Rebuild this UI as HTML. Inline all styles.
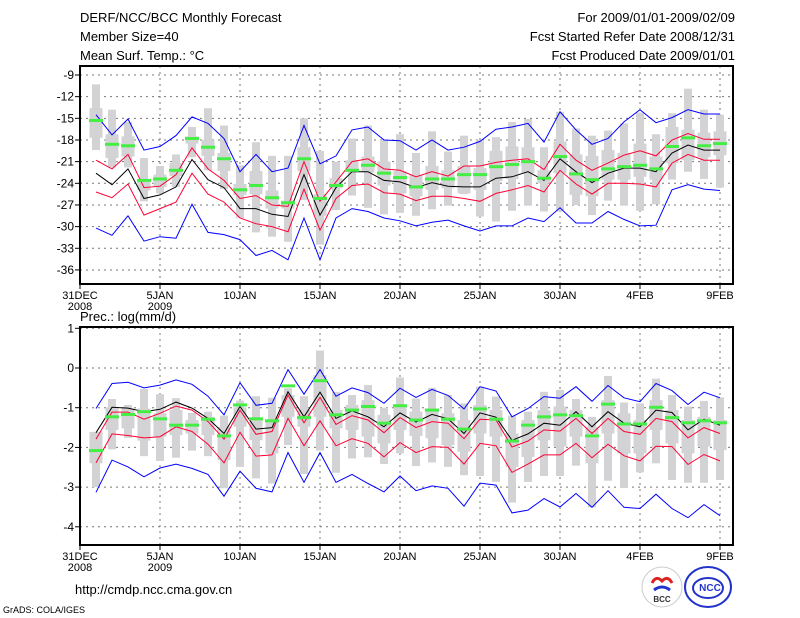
<!DOCTYPE html>
<html><head><meta charset="utf-8"><style>
body{margin:0;background:#fff;}
svg{display:block;font-family:"Liberation Sans",sans-serif;}
</style></head><body>
<svg id="chart" width="800" height="618" viewBox="0 0 800 618" xmlns="http://www.w3.org/2000/svg">
<rect width="800" height="618" fill="#fff"/>
<g font-size="13" fill="#000">
<text x="80" y="22">DERF/NCC/BCC Monthly Forecast</text>
<text x="80" y="41">Member Size=40</text>
<text x="80" y="60">Mean Surf. Temp.: °C</text>
<text x="735" y="22" text-anchor="end">For 2009/01/01-2009/02/09</text>
<text x="735" y="41" text-anchor="end">Fcst Started Refer Date 2008/12/31</text>
<text x="735" y="60" text-anchor="end">Fcst Produced Date 2009/01/01</text>
<text x="80" y="321">Prec.: log(mm/d)</text>
<text x="75" y="594">http://cmdp.ncc.cma.gov.cn</text>
<text x="3" y="613" font-size="9">GrADS: COLA/IGES</text>
</g>
<g>
<circle cx="662" cy="587" r="20" fill="#fff" stroke="#ccc"/>
<path d="M652 583 q4 -8 10 -2 q6 -6 10 2" stroke="#d22" stroke-width="3" fill="none"/>
<path d="M654 590 q8 -6 16 0" stroke="#23c" stroke-width="3" fill="none"/>
<text x="662" y="602" font-size="8" text-anchor="middle" font-weight="bold" fill="#333">BCC</text>
</g>
<g>
<ellipse cx="708" cy="587" rx="23" ry="20" fill="#fff" stroke="#23c" stroke-width="2"/>
<ellipse cx="708" cy="588" rx="15" ry="10" fill="none" stroke="#23c" stroke-width="2"/>
<text x="710" y="591" font-size="10" text-anchor="middle" font-weight="bold" fill="#23c">NCC</text>
</g>
<g id="top"></g>
<g id="bot"></g>
</svg>
<script>
// Temperature panel data (days 1..40)
const tBlueHi=[-14.5,-17.3,-15.1,-19.4,-18.9,-17.4,-14.8,-15.7,-17.8,-22.4,-20,-22.4,-21.9,-16,-21.3,-20.2,-16.6,-16.2,-18,-18.1,-19.4,-18,-19.4,-19,-18.2,-16.5,-16.2,-15.7,-18.3,-14.1,-16.6,-18.6,-17.8,-15.5,-13.8,-15.6,-14.9,-13.8,-14.4,-14.4];
const tRedHi=[-20.8,-22,-20,-24.6,-24.4,-22.8,-19.1,-22,-23.6,-26.1,-25.7,-27,-27.2,-21,-26.5,-23.8,-21,-20.6,-22,-22.2,-23.1,-22.4,-23,-21.6,-21.6,-21.1,-20.8,-20.6,-22.1,-18.6,-20.8,-22.2,-21.2,-20.1,-19.5,-20.2,-18,-17.1,-17.9,-17.9];
const tMean=[-22.6,-24.2,-22,-26.1,-25.6,-24.5,-20.7,-23.5,-24.6,-27.5,-27.5,-28.3,-28.6,-22.8,-28.4,-24.6,-22.4,-22.4,-23.6,-23.8,-24.6,-23.9,-24.4,-24.5,-24.5,-23.3,-23.1,-22.4,-23.6,-20.6,-22.4,-23.9,-22.6,-21.9,-21.9,-22.4,-19.8,-18.7,-19.4,-19.4];
const tRedLo=[-25.2,-26,-24.1,-28.4,-27.5,-26.6,-22.6,-25.5,-26.6,-28.8,-29.6,-30,-30.7,-24.8,-30.5,-26.1,-24.3,-24.1,-25.3,-25.5,-26.4,-25.8,-25.8,-26.1,-26.5,-25.4,-24.9,-24.3,-25.2,-22.2,-24.1,-25.5,-24,-24,-24.1,-24.5,-21.2,-20,-20.8,-20.8];
const tBlueLo=[-30.2,-31.2,-28.5,-32,-31.4,-31.6,-26.9,-30.8,-31.1,-31.8,-34,-33.3,-34.6,-28.8,-34.6,-28.8,-27.5,-27.9,-28.8,-29.2,-29.9,-29.4,-29.1,-29.9,-30.6,-29.9,-29.9,-28.8,-29.3,-27.4,-29.5,-29.5,-27.9,-29,-29.9,-29.8,-24.9,-24.2,-24.8,-25];
const tObs=[-15.3,-18.6,-18.8,-23.6,-23.4,-22.2,-17.8,-19,-20.6,-24.9,-24.3,-26,-26.7,-20.6,-26.1,-24.3,-22.2,-21.5,-22.6,-23.2,-24.5,-23.4,-23.4,-22.8,-22.8,-21.7,-21.4,-21,-23.3,-20.3,-22.7,-23.5,-22,-21.7,-21.5,-22,-18.9,-17.7,-18.8,-18.5];
const tWhHi=[-10.3,-13.8,-15.5,-20.5,-21.6,-20,-16.2,-13.6,-16,-21.5,-18.3,-20.2,-20.2,-15,-19.5,-21,-17.8,-16,-18,-17.2,-19.8,-16.8,-19.6,-17.4,-18,-17.6,-15.5,-15.1,-19,-14.1,-16.4,-17.4,-16.7,-15.7,-14.2,-17.2,-14.3,-10.9,-13.8,-14.5];
const tWhLo=[-19.4,-21.8,-21.8,-26.5,-25.4,-24.5,-20.4,-22.2,-24.8,-28.8,-30.8,-31.4,-32.1,-26.3,-32.5,-27.7,-25.7,-27.4,-28.3,-28.1,-28.5,-27.6,-27.1,-25.5,-28.6,-29.3,-27.8,-27.1,-27.9,-27.9,-27,-28.4,-26.4,-27.1,-27.8,-26.9,-23.5,-22.4,-23.4,-24.6];
const tBxHi=[-13.6,-17.2,-17.5,-23.5,-22.8,-21.2,-17.5,-18,-19.8,-24.1,-22.3,-25,-26.4,-19,-25.5,-23.3,-20.8,-20.3,-21,-22.3,-22.8,-21.6,-22.2,-21.6,-21.9,-19.5,-18.9,-19,-22.2,-18.2,-20,-20.2,-19.4,-19.8,-18.5,-20.3,-16.2,-16.6,-17,-16.8];
const tBxLo=[-17.7,-20.5,-20.3,-25,-24.5,-23,-18.5,-20.2,-22.3,-25.6,-25.5,-27.5,-27.5,-22.3,-28.5,-24.7,-22.3,-22.5,-24.3,-25.4,-25.8,-24.9,-24.7,-25.4,-24.9,-23.7,-23.4,-22.6,-24,-22.6,-25.6,-25.8,-23.5,-23.5,-23.1,-23.5,-21.2,-20.8,-20.4,-20.1];
const tTicks=[-9,-12,-15,-18,-21,-24,-27,-30,-33,-36];
// Precipitation panel data
const pBlueHi=[-1.02,-0.39,-0.36,-0.5,-0.43,-0.3,-0.41,-0.71,-1.18,-0.37,-0.94,-0.89,-0.04,-0.66,-0.04,-0.71,-0.5,-0.62,-0.89,-0.51,-0.74,-0.54,-0.69,-1.03,-0.47,-0.58,-1.23,-1.02,-0.72,-0.76,-0.47,-0.84,-0.44,-0.75,-0.85,-0.39,-0.57,-0.92,-0.61,-0.75];
const pMean=[-1.63,-0.99,-1.01,-1.1,-1.04,-0.86,-1.01,-1.27,-1.65,-0.97,-1.54,-1.5,-0.6,-1.23,-0.61,-1.27,-1.08,-1.23,-1.48,-1.13,-1.36,-1.17,-1.28,-1.65,-1.13,-1.24,-1.82,-1.66,-1.39,-1.44,-1.1,-1.48,-1.1,-1.39,-1.48,-1.06,-1.12,-1.56,-1.29,-1.44];
const pRedHi=[-1.79,-1.11,-1.11,-1.29,-1.14,-0.96,-1.06,-1.35,-1.79,-1.06,-1.67,-1.6,-0.68,-1.38,-0.74,-1.42,-1.2,-1.31,-1.63,-1.25,-1.5,-1.35,-1.39,-1.78,-1.29,-1.31,-1.99,-1.84,-1.56,-1.59,-1.27,-1.65,-1.27,-1.6,-1.67,-1.27,-1.35,-1.76,-1.5,-1.65];
const pRedLo=[-2.39,-1.66,-1.7,-1.76,-1.73,-1.48,-1.6,-1.92,-2.39,-1.62,-2.22,-2.19,-1.27,-1.96,-1.33,-1.96,-1.78,-1.9,-2.24,-1.88,-2.13,-1.98,-2,-2.42,-1.9,-1.96,-2.63,-2.42,-2.19,-2.19,-1.9,-2.26,-1.92,-2.21,-2.34,-1.97,-1.98,-2.43,-2.18,-2.34];
const pBlueLo=[-3.13,-2.32,-2.49,-2.74,-2.52,-2.42,-2.53,-2.68,-3.23,-2.6,-3.03,-3.12,-2.13,-2.88,-2.13,-2.88,-2.68,-2.91,-3.12,-2.72,-3.09,-2.97,-3.03,-3.48,-2.9,-2.95,-3.65,-3.58,-3.29,-3.5,-3.16,-3.51,-3.09,-3.51,-3.54,-3.18,-3.54,-3.77,-3.44,-3.72];
const pObs=[-2.08,-1.23,-1.17,-1.1,-1.28,-1.44,-1.44,-1.29,-1.71,-0.93,-1.28,-1.33,-0.45,-1.25,-0.32,-1.18,-1.06,-0.97,-1.39,-0.95,-1.31,-1.06,-1.29,-1.54,-1.03,-1.29,-1.84,-1.44,-1.23,-1.18,-1.2,-1.71,-0.91,-1.41,-1.41,-0.99,-1.25,-1.38,-1.33,-1.38];
const pWhHi=[-1.61,-0.78,-0.93,-0.53,-0.66,-0.76,-1.13,-1.1,-1.2,-0.82,-0.71,-0.75,-0.51,-0.71,0.44,-0.6,-0.68,-0.43,-1,-0.24,-0.77,-0.5,-0.68,-0.89,-0.47,-0.72,-1.2,-1.1,-0.6,-0.55,-0.78,-1.23,-0.2,-0.87,-0.89,-0.27,-0.68,-0.97,-0.83,-0.74];
const pWhLo=[-3,-2.05,-1.76,-2.22,-2.34,-2.26,-2.08,-2.22,-3.03,-2.49,-2.78,-2.91,-1.94,-2.67,-2.08,-2.64,-2.28,-2.25,-2.42,-2.15,-2.47,-2.38,-2.49,-2.7,-2.72,-2.87,-3.39,-2.87,-2.72,-2.72,-2.46,-3.51,-2.84,-3.02,-2.63,-2.4,-2.82,-2.89,-2.89,-2.82];
const pBxHi=[-1.61,-0.99,-1.02,-1.02,-1.14,-1.06,-1.31,-1.23,-1.48,-0.99,-1.31,-1.31,-0.68,-1.06,-0.18,-1.06,-0.93,-0.81,-1.18,-0.97,-1.1,-1.02,-1.14,-1.31,-0.93,-1.06,-1.65,-1.31,-1.06,-0.97,-1.06,-1.48,-0.81,-1.14,-1.31,-0.81,-1.06,-1.31,-1.23,-1.31];
const pBxLo=[-2.4,-1.56,-1.52,-1.83,-1.73,-1.69,-1.65,-1.69,-2.32,-1.48,-1.82,-2.15,-1.23,-1.48,-1.23,-1.52,-1.56,-1.73,-1.9,-1.56,-1.71,-1.77,-1.94,-2.11,-1.65,-1.73,-2.49,-2.24,-1.82,-1.98,-1.73,-2.4,-1.65,-2.15,-2.15,-1.56,-1.9,-2.15,-1.98,-2.07];
const pTicks=[1,0,-1,-2,-3,-4];
const xTickDays=[0,5,10,15,20,25,30,35,40];
const xTickLabels=["31DEC","5JAN","10JAN","15JAN","20JAN","25JAN","30JAN","4FEB","9FEB"];

const NS="http://www.w3.org/2000/svg";
function mk(parent,tag,attrs){const e=document.createElementNS(NS,tag);for(const k in attrs)e.setAttribute(k,attrs[k]);parent.appendChild(e);return e;}
const X0=80, X1=733, DX=16;
function xs(d){return X0+d*DX;}

function panel(g,cfg){
  const ys=v=>cfg.y0+(cfg.v0-v)*cfg.k;
  // grid
  for(const t of cfg.ticks){
    const y=ys(t);
    const gl=mk(g,'line',{x1:X0,x2:X1,y1:y,y2:y,stroke:'#777','stroke-dasharray':'2,4','stroke-width':1});
    
    
    const tk=mk(g,'line',{x1:X0-5,x2:X0,y1:y,y2:y,stroke:'#000'});
    
    
    const tl=mk(g,'text',{x:X0-6,y:y+4,'font-size':12,'text-anchor':'end'});
    tl.textContent=t;
    
    
  }
  xTickDays.forEach((d,i)=>{
    const x=xs(d);
    const gl=mk(g,'line',{x1:x,x2:x,y1:cfg.top,y2:cfg.bot,stroke:'#777','stroke-dasharray':'2,4'});
    
    
    const tk=mk(g,'line',{x1:x,x2:x,y1:cfg.bot,y2:cfg.bot+5,stroke:'#000'});
    
    
    const tl=mk(g,'text',{x:x,y:cfg.bot+15,'font-size':11,'text-anchor':'middle'});
    tl.textContent=xTickLabels[i];
    
    
  });
  const yr=mk(g,'text',{x:xs(0),y:cfg.bot+26,'font-size':11,'text-anchor':'middle'});yr.textContent='2008';
  
  
  const yr2=mk(g,'text',{x:xs(5),y:cfg.bot+26,'font-size':11,'text-anchor':'middle'});yr2.textContent='2009';
  
  
  // boxes
  for(let i=0;i<cfg.obs.length;i++){
    const x=xs(i+1);
    const wh=mk(g,'rect',{x:x-4,y:ys(cfg.whHi[i]),width:8,height:ys(cfg.whLo[i])-ys(cfg.whHi[i]),fill:'#d3d3d6'});
    
    
    const bx=mk(g,'rect',{x:x-6.5,y:ys(cfg.bxHi[i]),width:13,height:ys(cfg.bxLo[i])-ys(cfg.bxHi[i]),fill:'#d3d3d6'});
    
    
  }
  const lines=[[cfg.blueHi,'#0000ff','upper-extreme-line'],[cfg.blueLo,'#0000ff','lower-extreme-line'],[cfg.redHi,'#ff0033','upper-spread-line'],[cfg.redLo,'#ff0033','lower-spread-line'],[cfg.mean,'#000','ensemble-mean-line']];
  for(const [arr,c,n] of lines){
    const pl=mk(g,'polyline',{points:arr.map((v,i)=>xs(i+1)+','+ys(v).toFixed(1)).join(' '),fill:'none',stroke:c,'stroke-width':1});
    
    
  }
  for(let i=0;i<cfg.obs.length;i++){
    const o=mk(g,'rect',{x:xs(i+1)-7,y:ys(cfg.obs[i])-1.5,width:14,height:3,fill:'#44ee44'});
    
    
  }
  const fr=mk(g,'rect',{x:X0,y:cfg.top,width:X1-X0,height:cfg.bot-cfg.top,fill:'none',stroke:'#000','stroke-width':2});
  
  
}
const gt=document.getElementById('top');


panel(gt,{top:66,bot:284,y0:75,v0:-9,k:7.22,ticks:tTicks,blueHi:tBlueHi,blueLo:tBlueLo,redHi:tRedHi,redLo:tRedLo,mean:tMean,obs:tObs,whHi:tWhHi,whLo:tWhLo,bxHi:tBxHi,bxLo:tBxLo});
const gb=document.getElementById('bot');


panel(gb,{top:327,bot:545,y0:328.3,v0:1,k:39.7,ticks:pTicks,blueHi:pBlueHi,blueLo:pBlueLo,redHi:pRedHi,redLo:pRedLo,mean:pMean,obs:pObs,whHi:pWhHi,whLo:pWhLo,bxHi:pBxHi,bxLo:pBxLo});
</script>
</body></html>
